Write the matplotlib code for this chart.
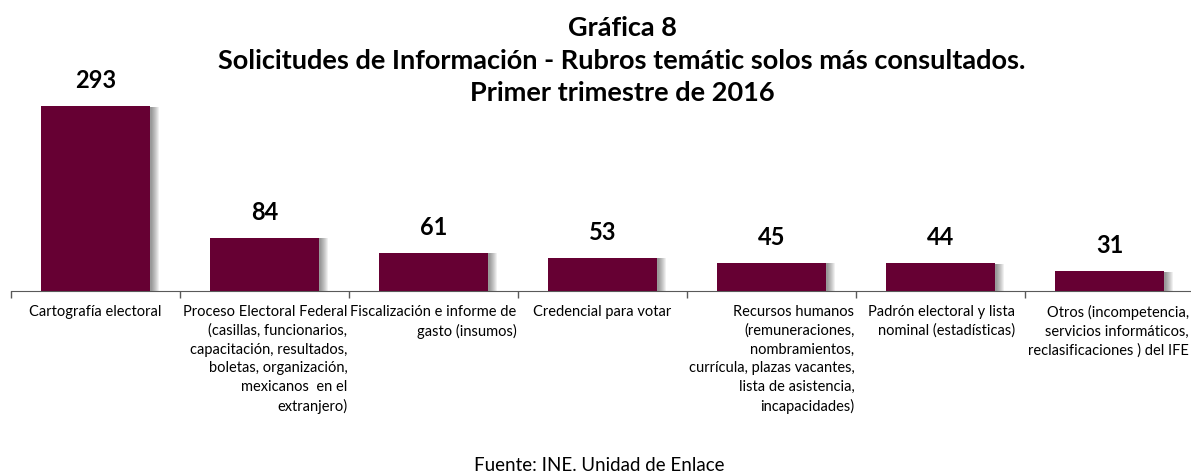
import matplotlib
matplotlib.use('Agg')
import matplotlib.pyplot as plt
import matplotlib.patheffects as pe

plt.rcParams['font.family'] = ['Lato', 'DejaVu Sans']

# solicitudes por rubro temático, primer trimestre 2016
rubros = [
    'Cartografía electoral',
    'Proceso Electoral Federal\n(casillas, funcionarios,\ncapacitación, resultados,\nboletas, organización,\nmexicanos  en el\nextranjero)',
    'Fiscalización e informe de\ngasto (insumos)',
    'Credencial para votar',
    'Recursos humanos\n(remuneraciones,\nnombramientos,\ncurrícula, plazas vacantes,\nlista de asistencia,\nincapacidades)',
    'Padrón electoral y lista\nnominal (estadísticas)',
    'Otros (incompetencia,\nservicios informáticos,\nreclasificaciones ) del IFE',
]
solicitudes = [293, 84, 61, 53, 45, 44, 31]

# how each category label sits under its slot
label_ha = ['center', 'right', 'right', 'center', 'right', 'right', 'right']
label_dx = [0.0, 0.49, 0.49, 0.0, 0.49, 0.44, 0.47]

W, H = 1191, 474
fig = plt.figure(figsize=(W / 100, H / 100), dpi=100)
ax = fig.add_axes([11 / W, (H - 291) / H, 1183 / W, 189 / H])

x = list(range(len(solicitudes)))
# soft grey shadow to the right of each bar
shadow = [pe.SimplePatchShadow(offset=(i * 0.8, -0.3), shadow_rgbFace='#000000', alpha=0.06)
          for i in range(1, 9)]
bars = ax.bar(x, solicitudes, width=0.65, color='#660033', zorder=3)
for b in bars:
    b.set_path_effects(shadow + [pe.Normal()])

for xi, v in zip(x, solicitudes):
    ax.annotate(str(v), (xi, v), xytext=(0, 13), textcoords='offset points',
                ha='center', va='baseline', fontsize=17, fontweight='bold')

for xi, lab, ha, dx in zip(x, rubros, label_ha, label_dx):
    ax.annotate(lab, (xi + dx, 0), xycoords=('data', 'axes fraction'),
                xytext=(0, -10), textcoords='offset points',
                ha=ha, va='top', multialignment=ha, fontsize=10.5, linespacing=1.42)

ax.set_xlim(-0.5, len(solicitudes) - 0.5)
ax.set_ylim(0, 300)
ax.set_yticks([])
ax.set_xticks([i - 0.5 for i in range(len(solicitudes) + 1)])
ax.set_xticklabels([])
ax.tick_params(axis='x', direction='out', length=5, color='#595959', width=1)
for s in ['top', 'right', 'left']:
    ax.spines[s].set_visible(False)
ax.spines['bottom'].set_color('#595959')

titulos = ['Gráfica 8',
           'Solicitudes de Información - Rubros temátic solos más consultados.',
           'Primer trimestre de 2016']
for t, yb in zip(titulos, [36, 69, 101]):
    fig.text(622 / W, 1 - yb / H, t, ha='center', va='baseline',
             fontsize=19.5, fontweight='bold')

fig.text(599 / W, 1 - 471 / H, 'Fuente: INE. Unidad de Enlace', ha='center',
         va='baseline', fontsize=13.5)

fig.savefig('out.png', dpi=100)
